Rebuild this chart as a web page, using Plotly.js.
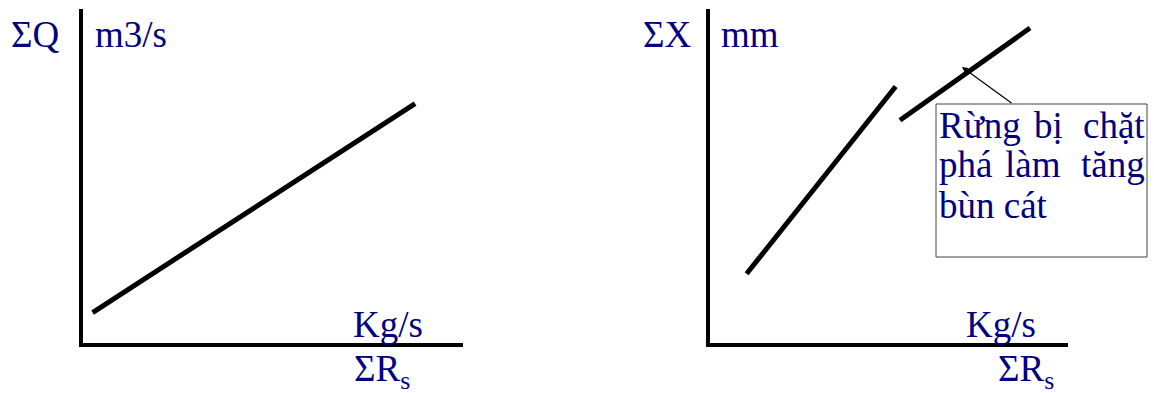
<!DOCTYPE html>
<html>
<head>
<meta charset="utf-8">
<script src="https://cdn.plot.ly/plotly-3.0.1.min.js"></script>
<style>html,body{margin:0;padding:0;background:#fff;}#chart{width:1154px;height:393px;}</style>
</head>
<body>
<div id="chart"></div>
<script>
// ---- data (axis units 0..100) ----
const leftX = [2.6, 87.4];
const leftY = [9.2, 71.7];
const right1X = [10.3, 51.9];
const right1Y = [20.8, 76.8];
const right2X = [53.1, 89.4];
const right2Y = [66.7, 94.3];

const leftYLabel = 'ΣQ';
const leftYUnit = 'm3/s';
const rightYLabel = 'ΣX';
const rightYUnit = 'mm';
const xUnit = 'Kg/s';
const xLabel = 'ΣR<sub>s</sub>';
const noteLine1 = ['Rừng', 'bị', 'chặt'];
const noteLine2 = ['phá', 'làm', 'tăng'];
const noteLine3 = ['bùn cát'];

// ---- layout helpers (pixel -> paper) ----
const W = 1154, H = 393;
const px = v => v / W;
const py = v => 1 - v / H;

const navy = '#000080';
const serif = 'Liberation Serif, Times New Roman, serif';
const fnt = {family: serif, size: 37, color: navy};

const lineStyle = {color: '#000', width: 5};
const traces = [
  {x: leftX, y: leftY, xaxis: 'x', yaxis: 'y', mode: 'lines', line: lineStyle, hoverinfo: 'skip'},
  {x: right1X, y: right1Y, xaxis: 'x2', yaxis: 'y2', mode: 'lines', line: lineStyle, hoverinfo: 'skip'},
  {x: right2X, y: right2Y, xaxis: 'x2', yaxis: 'y2', mode: 'lines', line: lineStyle, hoverinfo: 'skip'}
];

const axBase = {range: [0, 100], showline: true, linecolor: '#000', linewidth: 3.5,
  showgrid: false, zeroline: false, showticklabels: false, ticks: '', fixedrange: true};

function lab(text, x, y, xanchor) {
  return {text: text, x: px(x), y: py(y), xref: 'paper', yref: 'paper',
    xanchor: xanchor || 'center', yanchor: 'middle', showarrow: false, font: fnt};
}

const annotations = [
  lab(leftYLabel, 35, 34.5),
  lab(leftYUnit, 131, 34.5),
  lab(xUnit, 388, 324.5),
  lab(xLabel, 382, 371),
  lab(rightYLabel, 667, 34.5),
  lab(rightYUnit, 750, 34.5),
  lab(xUnit, 1001, 324.5),
  lab(xLabel, 1026, 371),
  lab(noteLine1[0], 937, 125.5, 'left'),
  lab(noteLine1[1], 1048, 125.5, 'center'),
  lab(noteLine1[2], 1147, 125.5, 'right'),
  lab(noteLine2[0], 937, 164.5, 'left'),
  lab(noteLine2[1], 1033, 164.5, 'center'),
  lab(noteLine2[2], 1147, 164.5, 'right'),
  lab(noteLine3[0], 937, 205.5, 'left'),
  {text: '', x: px(962), y: py(67), xref: 'paper', yref: 'paper', showarrow: true,
    ax: 51, ay: 37, arrowhead: 2, arrowsize: 1, arrowwidth: 1.2, arrowcolor: '#000'}
];

const layout = {
  width: W, height: H,
  margin: {l: 0, r: 0, t: 0, b: 0},
  paper_bgcolor: '#fff', plot_bgcolor: 'rgba(0,0,0,0)',
  showlegend: false,
  xaxis: Object.assign({}, axBase, {domain: [px(82.7), px(463)], anchor: 'y'}),
  yaxis: Object.assign({}, axBase, {domain: [py(343.3), py(9)], anchor: 'x'}),
  xaxis2: Object.assign({}, axBase, {domain: [px(709.7), px(1068)], anchor: 'y2'}),
  yaxis2: Object.assign({}, axBase, {domain: [py(343.3), py(9)], anchor: 'x2'}),
  shapes: [
    {type: 'rect', xref: 'paper', yref: 'paper', x0: px(936), x1: px(1147), y0: py(104), y1: py(257),
     line: {color: '#444', width: 1}, fillcolor: 'rgba(0,0,0,0)'}
  ],
  annotations: annotations
};

Plotly.newPlot('chart', traces, layout, {staticPlot: true, displayModeBar: false});
</script>
</body>
</html>
